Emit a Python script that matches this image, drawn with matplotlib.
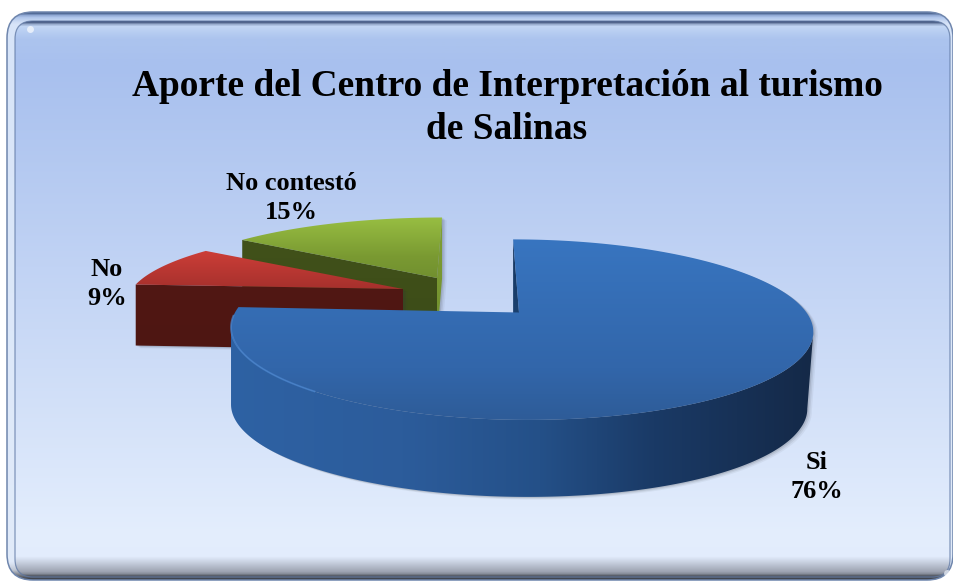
import numpy as np
import matplotlib
matplotlib.use("Agg")
import matplotlib.pyplot as plt
from matplotlib.patches import Polygon, FancyBboxPatch
from matplotlib.colors import LinearSegmentedColormap as LSC

W, H = 954, 581
categories = ["Si", "No", "No contestó"]
values = [76, 9, 15]
title = "Aporte del Centro de Interpretación al turismo\nde Salinas"

fig = plt.figure(figsize=(W / 100, H / 100), dpi=100, facecolor="white")
ax = fig.add_axes([0, 0, 1, 1])
ax.set_xlim(0, W)
ax.set_ylim(H, 0)
ax.axis("off")
SERIF = "Liberation Serif"


def rgb(c):
    return tuple(v / 255 for v in c)


def fill(patch, stops, extent, vertical=True, z=1):
    """Paint a patch with a linear gradient."""
    ax.add_patch(patch)
    patch.set_facecolor("none")
    patch.set_edgecolor("none")
    patch.set_zorder(z)
    t = np.linspace(0, 1, 256)
    grid = t[:, None] if vertical else t[None, :]
    cmap = LSC.from_list("g", [(p, rgb(c)) for p, c in stops])
    im = ax.imshow(grid, cmap=cmap, vmin=0, vmax=1, origin="upper",
                   extent=(extent[0], extent[1], extent[3], extent[2]),
                   aspect="auto", interpolation="bilinear", zorder=z)
    im.set_clip_path(patch)


def rrect(x0, y0, x1, y1, r, **kw):
    return FancyBboxPatch((x0 + r, y0 + r), x1 - x0 - 2 * r, y1 - y0 - 2 * r,
                          boxstyle=f"round,pad={r},rounding_size={r}", **kw)


# frame and panel -----------------------------------------------------------
fill(rrect(7, 12, 953, 580, 26), [(0, (70, 95, 140)), (.005, (165, 190, 232)),
                                  (.018, (215, 228, 248)), (.97, (225, 235, 250)),
                                  (.985, (190, 196, 208)), (1, (60, 64, 72))],
     (7, 953, 12, 580), z=1)
ax.add_patch(rrect(7, 12, 953, 580, 26, fc="none", ec="#6f86ad", lw=1.1, zorder=1.5))
fill(rrect(15, 21, 950, 577, 18), [(0, (65, 85, 125)), (.006, (195, 215, 245)),
                                   (.03, (172, 196, 238)), (.08, (168, 192, 238)),
                                   (.5, (197, 214, 245)), (.93, (228, 238, 253)),
                                   (.965, (226, 236, 252)), (.995, (150, 156, 170)),
                                   (1, (80, 85, 95))],
     (15, 950, 21, 577), z=2)
ax.add_patch(rrect(15, 21, 950, 577, 18, fc="none", ec="#5f78a4", lw=.9, alpha=.75, zorder=2.5))
ax.plot([30, 947], [29, 573], ls="none", marker="o", ms=5, mfc="white", mec="none", alpha=.65, zorder=3)


# perspective pie geometry --------------------------------------------------
def project(frac, g):
    th = 2 * np.pi * np.asarray(frac)
    u, v = np.sin(th), np.cos(th)
    w = 1 + g["k"] * v
    b = np.where(u < 0, g["bl"], g["b"])
    return np.c_[g["x"] + (b * u + g["c"] * v) / w, g["y"] - g["a"] * v / w]


cum = np.concatenate([[0], np.cumsum(values)]) / np.sum(values)
geo_blue = dict(x=519, y=312.5, a=87, b=287.5, bl=284, c=-7, k=0.19, d=77, taper=6)
geo_red = dict(x=403, y=289, a=72, b=271, bl=271, c=0, k=0.19, d=61, taper=0)
geo_green = dict(x=437, y=278, a=72, b=272, bl=272, c=6, k=0.19, d=61, taper=0)


def arc(i, g):
    return project(np.linspace(cum[i], cum[i + 1], 480), g)


def shadow(poly, z):
    for s, al in ((4.5, .06), (3, .09), (1.5, .13)):
        ax.add_patch(Polygon(poly + [s, s * .6], closed=True, fc="#30343c",
                             ec="none", alpha=al, zorder=z))


def wedge(i, g, top_stops, near_stops, side_stops, rim_stops, z):
    """near: face below the edge arc start-apex; side: face below apex-arc end."""
    pts = arc(i, g)
    apex = np.array([g["x"], g["y"]])
    down = np.array([0, g["d"]])
    outline = np.vstack([apex, pts])
    box = (outline[:, 0].min() - 8, outline[:, 0].max() + 8,
           outline[:, 1].min(), outline[:, 1].max() + g["d"])
    near = np.array([pts[0], apex, apex + down, pts[0] + down])
    side = np.array([apex, pts[-1], pts[-1] + down, apex + down])
    faces = [near]
    if side_stops is not None:
        faces.append(side)
    band = None
    if rim_stops is not None:
        imax = int(np.argmax(pts[:, 0]))
        imin = int(np.argmin(pts[:, 0]))
        front = pts[imax:imin + 1]
        low = front + down
        low[:, 0] -= g["taper"] * np.clip((low[:, 0] - g["x"]) / g["b"], 0, 1) ** 2
        band = np.vstack([front, low[::-1]])
        faces.append(band)
    for f in faces:
        shadow(f, z)
    shadow(outline, z)
    if side_stops is not None:
        fill(Polygon(side, closed=True), side_stops, box, True, z + .1)
    fill(Polygon(near, closed=True), near_stops, box, True, z + .2)
    if band is not None:
        fill(Polygon(band, closed=True), rim_stops, box, False, z + .3)
    fill(Polygon(outline, closed=True), top_stops, box, True, z + .4)
    return pts


# green (back)
wedge(2, geo_green,
      [(0, (152, 190, 66)), (.32, (122, 154, 50)), (1, (90, 115, 40))],
      [(0, (66, 82, 26)), (1, (60, 76, 24))],
      [(0, (128, 160, 52)), (1, (112, 142, 46))], None, 10)
# red
wedge(1, geo_red,
      [(0, (205, 62, 56)), (.4, (165, 48, 44)), (1, (140, 40, 38))],
      [(0, (82, 24, 20)), (1, (78, 22, 18))], None, None, 20)
# blue (front)
pts = wedge(0, geo_blue,
            [(0, (56, 117, 192)), (.5, (50, 102, 170)), (.7, (46, 92, 152)), (1, (44, 88, 146))],
            [(0, (22, 52, 92)), (.35, (28, 68, 116)), (1, (28, 68, 116))], None,
            [(0, (46, 98, 164)), (.3, (44, 92, 155)), (.53, (36, 80, 136)),
             (.72, (26, 58, 102)), (1, (20, 40, 70))], 30)
# pale rim along the near-left of the blue top
s = len(pts)
ax.plot(pts[int(s * .80):int(s * .98), 0], pts[int(s * .80):int(s * .98), 1],
        color="#4a86d0", lw=1.3, alpha=.7, zorder=31)

# text ----------------------------------------------------------------------
ax.text(507, 108, title, ha="center", va="center", family=SERIF, weight="bold",
        fontsize=26.9, color="black", linespacing=1.3, zorder=50)
label_pos = [(817, 477), (107, 284), (291, 198)]
for c, v, (x, y) in zip(categories, values, label_pos):
    ax.text(x, y, f"{c}\n{v}%", ha="center", va="center", family=SERIF, weight="bold",
            fontsize=19, color="black", linespacing=1.36, zorder=50)

ax.set_xlim(0, W)
ax.set_ylim(H, 0)
fig.savefig("out.png", dpi=100, facecolor="white")
